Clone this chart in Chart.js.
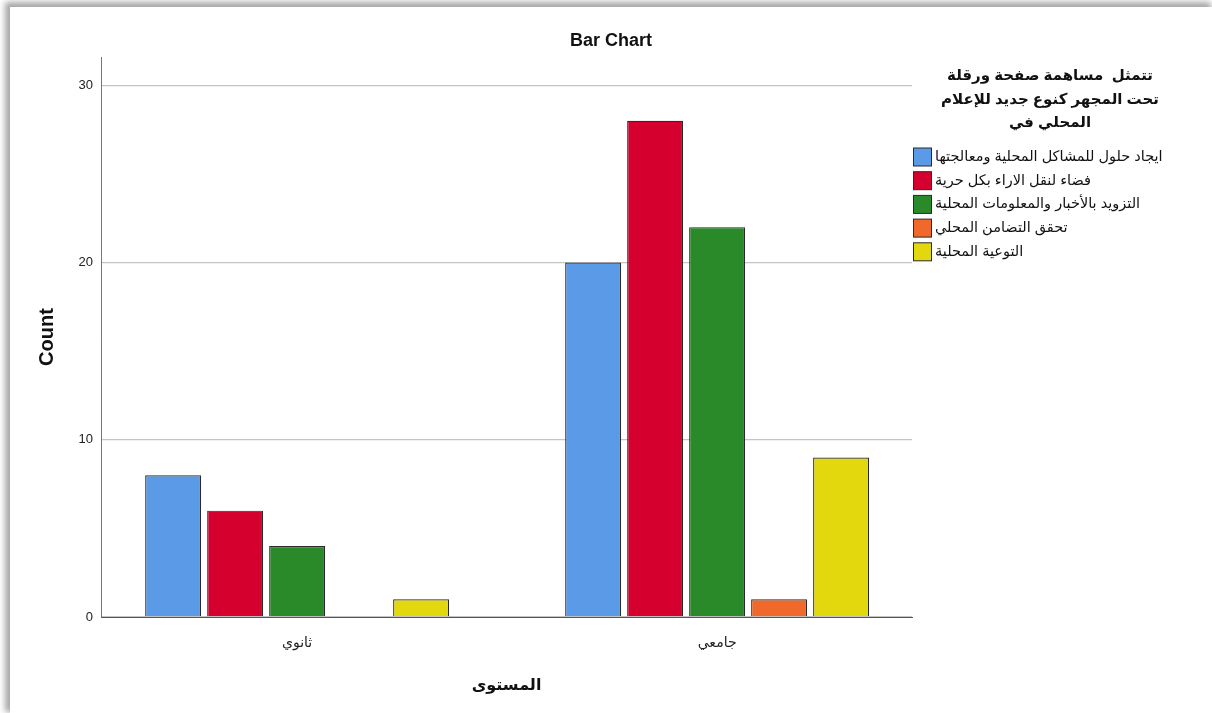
<!DOCTYPE html>
<html>
<head>
<meta charset="utf-8">
<script src="https://cdn.jsdelivr.net/npm/chart.js@4"></script>
<style>
  html,body{margin:0;padding:0;background:#fff;width:1212px;height:713px;overflow:hidden;}
  #frame{position:absolute;left:10px;top:7px;width:1202px;height:706px;background:#fff;
    box-shadow:-3px -3px 6px 2px rgba(0,0,0,0.35);}
  canvas{display:block;}
</style>
</head>
<body>
<div id="frame"><canvas id="c" width="1202" height="706"></canvas></div>
<script>
const categories = ['ثانوي', 'جامعي'];
const seriesNames = [
  'ايجاد حلول للمشاكل المحلية ومعالجتها',
  'فضاء لنقل الاراء بكل حرية',
  'التزويد بالأخبار والمعلومات المحلية',
  'تحقق التضامن المحلي',
  'التوعية المحلية'
];
const solutions = [8, 20];
const opinions = [6, 28];
const news = [4, 22];
const solidarity = [0, 1];
const awareness = [1, 9];
const seriesColors = ['#5a9ae6', '#d5002e', '#2a8a2a', '#f0692a', '#e3d70e'];
const legendTitleLines = ['تتمثل  مساهمة صفحة ورقلة', 'تحت المجهر كنوع جديد للإعلام', 'المحلي في'];
const yTicks = [0, 10, 20, 30];

const seriesValues = [solutions, opinions, news, solidarity, awareness];
const FONT = 'Arial, "Liberation Sans", "DejaVu Sans", sans-serif';

const datasets = seriesValues.map((vals, i) => ({
  label: seriesNames[i],
  data: vals.map((v, j) => ({x: j, y: v})),
  backgroundColor: seriesColors[i],
  borderColor: '#2a2a2a',
  borderWidth: 1.2,
  categoryPercentage: 0.738,
  barPercentage: 0.903
}));

const legendPlugin = {
  id: 'spssLegend',
  afterDraw(chart) {
    const ctx = chart.ctx;
    const right = chart.chartArea.right;
    ctx.save();
    ctx.direction = 'rtl';
    ctx.fillStyle = '#111';
    ctx.font = 'bold 15px ' + FONT;
    ctx.textAlign = 'center';
    ctx.textBaseline = 'middle';
    legendTitleLines.forEach((t, i) => ctx.fillText(t, right + 138, 69 + i * 23.5));
    ctx.font = '14.5px ' + FONT;
    ctx.textAlign = 'left';
    chart.data.datasets.forEach((ds, i) => {
      const y = 150 + i * 23.7;
      ctx.fillStyle = ds.backgroundColor;
      ctx.fillRect(right + 1.5, y - 9, 18, 18);
      ctx.strokeStyle = '#2a2a2a';
      ctx.lineWidth = 1;
      ctx.strokeRect(right + 1.5, y - 9, 18, 18);
      ctx.fillStyle = '#111';
      ctx.fillText(ds.label, right + 23, y);
    });
    ctx.restore();
  }
};

new Chart(document.getElementById('c'), {
  type: 'bar',
  data: { datasets },
  plugins: [legendPlugin],
  options: {
    responsive: false,
    animation: false,
    layout: { padding: 0 },
    plugins: {
      legend: { display: false },
      tooltip: { enabled: false },
      title: {
        display: true,
        text: 'Bar Chart',
        color: '#111',
        font: { family: FONT, size: 18, weight: 'bold', lineHeight: 1.2 },
        padding: { top: 23, bottom: 5.4 }
      }
    },
    scales: {
      x: {
        type: 'linear',
        offset: false,
        min: -0.467,
        max: 1.464,
        afterBuildTicks: s => { s.ticks = categories.map((c, i) => ({ value: i })); },
        afterFit: s => { s.height = 96; },
        grid: { display: false, drawTicks: false, offset: false },
        border: { display: true, color: '#555', width: 1 },
        ticks: {
          padding: 18,
          color: '#222',
          font: { family: FONT, size: 14 },
          callback: v => categories[v]
        },
        title: {
          display: true,
          text: 'المستوى',
          color: '#111',
          font: { family: FONT, size: 16, weight: 'bold', lineHeight: 1.2 },
          padding: { top: 0, bottom: 17.4 }
        }
      },
      y: {
        min: 0,
        max: 31.6,
        afterBuildTicks: s => { s.ticks = yTicks.map(v => ({ value: v })); },
        afterFit: s => { s.width = 91; },
        grid: { color: '#c4c4c4', lineWidth: 1.3, drawTicks: false },
        border: { display: true, color: '#777', width: 1 },
        ticks: {
          padding: 8,
          color: '#222',
          font: { family: FONT, size: 13 }
        },
        title: {
          display: true,
          text: 'Count',
          color: '#111',
          font: { family: FONT, size: 20, weight: 'bold', lineHeight: 1.2 },
          padding: { top: 25, bottom: 0 }
        }
      },
      yRight: {
        position: 'right',
        min: 0,
        max: 1,
        afterFit: s => { s.width = 300; },
        grid: { display: false, drawTicks: false },
        border: { display: false },
        ticks: { display: false }
      }
    }
  }
});
</script>
</body>
</html>
